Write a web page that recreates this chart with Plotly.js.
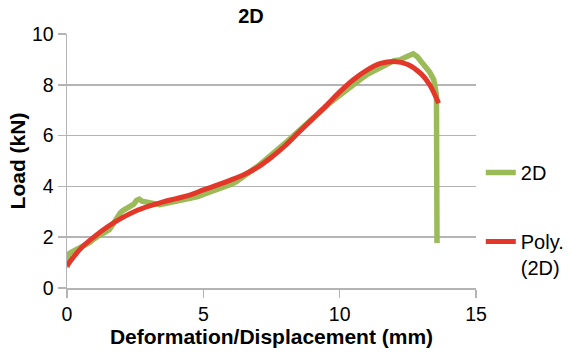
<!DOCTYPE html>
<html>
<head>
<meta charset="utf-8">
<script src="https://cdn.plot.ly/plotly-3.0.1.min.js"></script>
<style>html,body{margin:0;padding:0;background:#fff;}#chart{width:571px;height:352px;}</style>
</head>
<body>
<div id="chart"></div>
<script>
// Measured series "2D"
var measX = [0.00,0.03,0.08,0.15,0.25,0.35,0.45,0.55,0.65,0.75,0.85,0.95,1.05,1.15,1.25,1.35,1.45,1.55,1.65,1.75,1.85,1.95,2.05,2.15,2.25,2.35,2.45,2.55,2.65,2.75,2.85,2.95,3.05,3.20,3.40,3.60,3.80,4.00,4.20,4.40,4.60,4.80,5.00,5.20,5.40,5.60,5.80,6.00,6.20,6.40,6.60,6.80,7.00,7.20,7.40,7.60,7.80,8.00,8.20,8.40,8.60,8.80,9.00,9.20,9.40,9.60,9.80,10.00,10.20,10.40,10.60,10.80,11.00,11.20,11.40,11.60,11.80,12.00,12.20,12.40,12.55,12.70,12.85,13.00,13.15,13.30,13.45,13.55,13.57];
var measY = [0.80,1.10,1.35,1.40,1.45,1.50,1.55,1.60,1.68,1.72,1.80,1.90,2.00,2.05,2.10,2.15,2.20,2.30,2.45,2.65,2.85,2.95,3.05,3.12,3.18,3.22,3.30,3.45,3.50,3.42,3.40,3.38,3.35,3.30,3.28,3.32,3.36,3.40,3.45,3.48,3.52,3.60,3.68,3.75,3.82,3.90,3.98,4.08,4.18,4.32,4.48,4.62,4.80,4.98,5.15,5.32,5.50,5.70,5.90,6.10,6.30,6.50,6.68,6.88,7.05,7.25,7.42,7.60,7.78,7.95,8.10,8.25,8.40,8.52,8.62,8.75,8.88,8.95,8.98,9.05,9.15,9.22,9.10,8.90,8.70,8.50,8.20,7.60,1.77];
// Polynomial trendline "Poly. (2D)"
var polyX = [0,0.5,1,1.5,2,2.5,3,3.5,4,4.5,5,5.5,6,6.5,7,7.5,8,8.5,9,9.5,10,10.5,11,11.5,12,12.5,13,13.3,13.63];
var polyY = [0.88,1.55,2.02,2.42,2.75,3.02,3.22,3.38,3.52,3.66,3.86,4.05,4.25,4.47,4.76,5.15,5.60,6.13,6.65,7.17,7.72,8.20,8.58,8.84,8.92,8.80,8.42,8.00,7.27];
var xTicks = [0,5,10,15];
var yTicks = [0,2,4,6,8,10];

var FONT = 'Liberation Sans, Arial, Helvetica, sans-serif';
var GRID = '#b4b4b4';

var traces = [
  {x: measX, y: measY, name: '2D', mode: 'lines', type: 'scatter', legendgroup: 'a',
   line: {color: '#9bbb59', width: 5.5}},
  {x: polyX, y: polyY, name: 'Poly.<br>(2D)', mode: 'lines', type: 'scatter', legendgroup: 'b',
   line: {color: '#e3372a', width: 5, shape: 'spline'}}
];

var layout = {
  width: 571, height: 352,
  margin: {l: 67, r: 95, t: 34, b: 64},
  paper_bgcolor: '#fff', plot_bgcolor: '#fff',
  font: {family: FONT, color: '#000', size: 19},
  title: {text: '<b>2D</b>', font: {family: FONT, size: 20, color: '#000'},
          x: 0.45, xref: 'paper', xanchor: 'center', y: 0.955, yref: 'container', yanchor: 'middle'},
  xaxis: {range: [0, 15], tickvals: xTicks, ticktext: xTicks.map(String),
          showgrid: false, zeroline: false, showline: true, linecolor: GRID, linewidth: 1.5,
          ticks: 'outside', ticklen: 8, tickcolor: GRID, tickwidth: 1.5,
          tickfont: {family: FONT, size: 19.5, color: '#000'},
          title: {text: '<b>Deformation/Displacement (mm)</b>', font: {family: FONT, size: 21, color: '#000'}, standoff: 5}},
  yaxis: {range: [0, 10], tickvals: yTicks, ticktext: yTicks.map(String),
          showgrid: true, gridcolor: GRID, gridwidth: 1.5, zeroline: false,
          showline: true, linecolor: GRID, linewidth: 1.5,
          ticks: 'outside', ticklen: 8, tickcolor: GRID, tickwidth: 1.5,
          tickfont: {family: FONT, size: 19.5, color: '#000'},
          title: {text: '<b>Load (kN)</b>', font: {family: FONT, size: 21, color: '#000'}, standoff: 0}},
  showlegend: true,
  legend: {xref: 'container', yref: 'container', x: 0.842, xanchor: 'left', y: 0.565, yanchor: 'top', valign: 'top',
           traceorder: 'grouped', tracegroupgap: 40,
           font: {family: FONT, size: 20, color: '#000'}, bgcolor: 'rgba(0,0,0,0)', borderwidth: 0}
};

Plotly.newPlot('chart', traces, layout, {displayModeBar: false, staticPlot: true});
</script>
</body>
</html>
